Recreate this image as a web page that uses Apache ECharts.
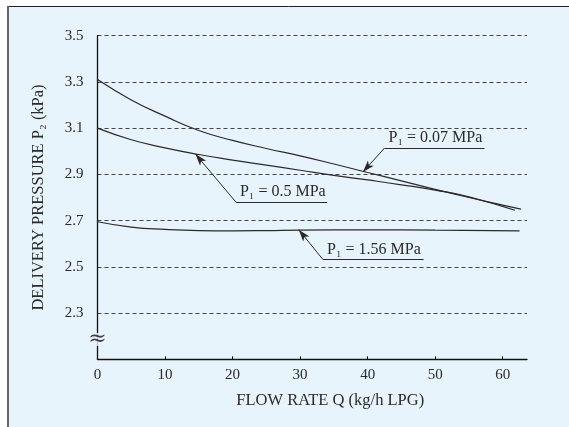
<!DOCTYPE html>
<html>
<head>
<meta charset="utf-8">
<script src="https://cdn.jsdelivr.net/npm/echarts@6/dist/echarts.min.js"></script>
<style>
html,body{margin:0;padding:0;background:#fff;}
#chart{width:569px;height:427px;}
</style>
</head>
<body>
<div id="chart"></div>
<script>
// ---- data ----
const xTicks = [0, 10, 20, 30, 40, 50, 60];
const yTicks = [2.3, 2.5, 2.7, 2.9, 3.1, 3.3, 3.5];
const seriesNames = ['P₁ = 0.07 MPa', 'P₁ = 0.5 MPa', 'P₁ = 1.56 MPa'];
const flowA = [0, 5, 10, 15, 20, 25, 30, 35, 40, 45, 50, 55, 60, 62.7];
const presA = [3.31, 3.222, 3.152, 3.09, 3.047, 3.012, 2.98, 2.945, 2.908, 2.872, 2.835, 2.80, 2.767, 2.75];
const flowB = [0, 5, 10, 15, 20, 25, 30, 35, 40, 45, 50, 55, 61.8];
const presB = [3.10, 3.05, 3.015, 2.986, 2.962, 2.94, 2.918, 2.896, 2.876, 2.855, 2.832, 2.803, 2.745];
const flowC = [0, 5, 10, 15, 20, 25, 30, 40, 50, 62.5];
const presC = [2.695, 2.672, 2.662, 2.657, 2.656, 2.657, 2.659, 2.66, 2.659, 2.656];
// annotation anchors (data coords): tip on curve, elbow, underline end
const noteTip   = [[39.3, 2.91], [14.5, 2.988], [29.8, 2.661]];
const noteElbow = [[42.5, 3.014], [20.5, 2.78], [33.4, 2.531]];
const noteEndX  = [57.3, 34.0, 48.3];
const breakMark = [0, 2.186];

const FONT = "'Liberation Serif','DejaVu Serif',serif";
const INK = '#2a2a2a';
const BG = '#E8F4FC';
const zip = (a, b) => a.map((v, i) => [v, b[i]]);

function makeSeries(i, xs, ys) {
  return {
    type: 'line', name: seriesNames[i], data: zip(xs, ys),
    smooth: 0.5, showSymbol: false, symbol: 'none',
    lineStyle: {color: INK, width: 1.2}, z: 3,
    markLine: {
      silent: true, animation: false,
      lineStyle: {color: INK, width: 1, type: 'solid'},
      data: [
        [{coord: noteElbow[i], symbol: 'none'}, {coord: noteTip[i], symbol: 'arrow', symbolSize: [6, 12]}],
        [{coord: noteElbow[i], symbol: 'none',
          label: {show: true, position: 'insideStartTop', formatter: seriesNames[i],
                  color: INK, fontFamily: FONT, fontSize: 16, distance: [4, 2]}},
         {coord: [noteEndX[i], noteElbow[i][1]], symbol: 'none'}]
      ],
      label: {show: false}
    }
  };
}

const chart = echarts.init(document.getElementById('chart'), null, {renderer: 'canvas'});
chart.setOption({
  animation: false,
  backgroundColor: '#ffffff',
  graphic: [
    {type: 'rect', shape: {x: 8, y: 6, width: 600, height: 500}, style: {fill: BG}, z: -10},
    {type: 'line', shape: {x1: 8, y1: 6.5, x2: 569, y2: 6.5}, style: {stroke: '#222', lineWidth: 1}, z: -9},
    {type: 'line', shape: {x1: 8, y1: 6, x2: 8, y2: 427}, style: {stroke: '#666', lineWidth: 2}, z: -9}
  ],
  grid: {left: 97.5, right: 42, top: 35.7, bottom: 67.7, containLabel: false},
  xAxis: {
    type: 'value', min: 0, max: 63.6, interval: 10,
    name: 'FLOW RATE Q (kg/h LPG)', nameLocation: 'middle', nameGap: 33,
    nameTextStyle: {color: INK, fontFamily: FONT, fontSize: 16.5, padding: [0, 0, 0, 36]},
    axisLine: {show: true, onZero: false, lineStyle: {color: '#111', width: 1.3}},
    axisTick: {show: true, inside: true, length: 3, customValues: xTicks, lineStyle: {color: '#111'}},
    axisLabel: {color: INK, fontFamily: FONT, fontSize: 15, margin: 8, customValues: xTicks},
    splitLine: {show: false}
  },
  yAxis: {
    type: 'value', min: 2.1, max: 3.5, interval: 0.2,
    name: 'DELIVERY PRESSURE P₂ (kPa)', nameLocation: 'middle', nameGap: 50, nameRotate: 90,
    nameTextStyle: {color: INK, fontFamily: FONT, fontSize: 16.5},
    axisLine: {show: true, onZero: false, lineStyle: {color: '#111', width: 1.3}},
    axisTick: {show: false},
    axisLabel: {color: INK, fontFamily: FONT, fontSize: 15, margin: 14, customValues: yTicks,
                formatter: v => v.toFixed(1)},
    splitLine: {show: true, lineStyle: {color: '#444', width: 1, type: [4, 3]}}
  },
  series: [
    makeSeries(0, flowA, presA),
    makeSeries(1, flowB, presB),
    makeSeries(2, flowC, presC),
    {
      type: 'scatter', data: [breakMark], symbol: 'circle', symbolSize: 1, z: 5, silent: true,
      itemStyle: {color: 'rgba(0,0,0,0)'},
      label: {show: true, position: 'inside', formatter: '≈', color: '#111', fontFamily: "'DejaVu Serif',serif",
              fontSize: 22, backgroundColor: BG, padding: [1, 0, 0, 0], lineHeight: 12}
    }
  ]
});
</script>
</body>
</html>
